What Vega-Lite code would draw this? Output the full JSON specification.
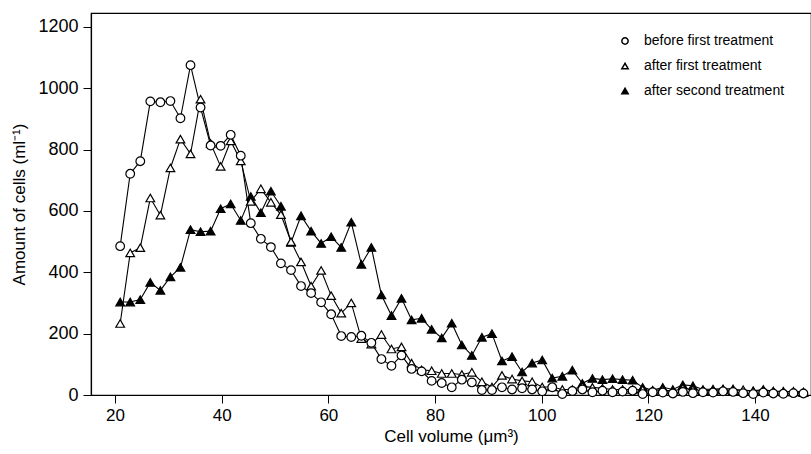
{
  "$schema": "https://vega.github.io/schema/vega-lite/v6.json",
  "width": 720,
  "height": 382,
  "autosize": {"type": "none"},
  "padding": {"left": 91, "top": 13, "right": 0, "bottom": 59},
  "background": "white",
  "config": {
    "view": {"stroke": "black", "strokeWidth": 1.2},
    "font": "Liberation Sans",
    "axis": {"grid": false, "domainColor": "black", "tickColor": "black", "labelColor": "black", "titleColor": "black", "labelFont": "Liberation Sans", "titleFont": "Liberation Sans", "titleFontWeight": "normal", "domainWidth": 1.2, "tickWidth": 1}
  },
  "data": {"values": [
{"s":"after second treatment","x":20.97,"v":303},{"s":"after second treatment","x":22.85,"v":303},{"s":"after second treatment","x":24.74,"v":311},{"s":"after second treatment","x":26.62,"v":367},{"s":"after second treatment","x":28.51,"v":341},{"s":"after second treatment","x":30.39,"v":385},{"s":"after second treatment","x":32.27,"v":416},{"s":"after second treatment","x":34.16,"v":539},{"s":"after second treatment","x":36.04,"v":532},{"s":"after second treatment","x":37.93,"v":534},
{"s":"after second treatment","x":39.81,"v":607},{"s":"after second treatment","x":41.69,"v":623},{"s":"after second treatment","x":43.58,"v":569},{"s":"after second treatment","x":45.46,"v":647},{"s":"after second treatment","x":47.35,"v":594},{"s":"after second treatment","x":49.23,"v":664},{"s":"after second treatment","x":51.11,"v":615},{"s":"after second treatment","x":53.0,"v":497},{"s":"after second treatment","x":54.88,"v":584},{"s":"after second treatment","x":56.77,"v":534},
{"s":"after second treatment","x":58.65,"v":494},{"s":"after second treatment","x":60.53,"v":516},{"s":"after second treatment","x":62.42,"v":481},{"s":"after second treatment","x":64.3,"v":563},{"s":"after second treatment","x":66.19,"v":426},{"s":"after second treatment","x":68.07,"v":481},{"s":"after second treatment","x":69.95,"v":326},{"s":"after second treatment","x":71.84,"v":259},{"s":"after second treatment","x":73.72,"v":315},{"s":"after second treatment","x":75.61,"v":245},
{"s":"after second treatment","x":77.49,"v":250},{"s":"after second treatment","x":79.37,"v":214},{"s":"after second treatment","x":81.26,"v":186},{"s":"after second treatment","x":83.14,"v":234},{"s":"after second treatment","x":85.03,"v":163},{"s":"after second treatment","x":86.91,"v":129},{"s":"after second treatment","x":88.79,"v":188},{"s":"after second treatment","x":90.68,"v":200},{"s":"after second treatment","x":92.56,"v":111},{"s":"after second treatment","x":94.45,"v":125},
{"s":"after second treatment","x":96.33,"v":75},{"s":"after second treatment","x":98.21,"v":104},{"s":"after second treatment","x":100.1,"v":114},{"s":"after second treatment","x":101.98,"v":55},{"s":"after second treatment","x":103.87,"v":61},{"s":"after second treatment","x":105.75,"v":81},{"s":"after second treatment","x":107.63,"v":38},{"s":"after second treatment","x":109.52,"v":54},{"s":"after second treatment","x":111.4,"v":50},{"s":"after second treatment","x":113.29,"v":53},
{"s":"after second treatment","x":115.17,"v":50},{"s":"after second treatment","x":117.05,"v":48},{"s":"after second treatment","x":118.94,"v":25},{"s":"after second treatment","x":120.82,"v":15},{"s":"after second treatment","x":122.71,"v":25},{"s":"after second treatment","x":124.59,"v":18},{"s":"after second treatment","x":126.47,"v":33},{"s":"after second treatment","x":128.36,"v":30},{"s":"after second treatment","x":130.24,"v":18},{"s":"after second treatment","x":132.13,"v":19},
{"s":"after second treatment","x":134.01,"v":20},{"s":"after second treatment","x":135.89,"v":20},{"s":"after second treatment","x":137.78,"v":14},{"s":"after second treatment","x":139.66,"v":14},{"s":"after second treatment","x":141.55,"v":18},{"s":"after second treatment","x":143.43,"v":12},{"s":"after second treatment","x":145.31,"v":12},{"s":"after second treatment","x":147.2,"v":10},{"s":"after second treatment","x":149.08,"v":8},
{"s":"after first treatment","x":20.97,"v":233},{"s":"after first treatment","x":22.85,"v":463},{"s":"after first treatment","x":24.74,"v":480},{"s":"after first treatment","x":26.62,"v":642},{"s":"after first treatment","x":28.51,"v":586},{"s":"after first treatment","x":30.39,"v":740},{"s":"after first treatment","x":32.27,"v":834},{"s":"after first treatment","x":34.16,"v":786},{"s":"after first treatment","x":36.04,"v":964},{"s":"after first treatment","x":37.93,"v":820},
{"s":"after first treatment","x":39.81,"v":745},{"s":"after first treatment","x":41.69,"v":828},{"s":"after first treatment","x":43.58,"v":763},{"s":"after first treatment","x":45.46,"v":631},{"s":"after first treatment","x":47.35,"v":672},{"s":"after first treatment","x":49.23,"v":628},{"s":"after first treatment","x":51.11,"v":588},{"s":"after first treatment","x":53.0,"v":500},{"s":"after first treatment","x":54.88,"v":434},{"s":"after first treatment","x":56.77,"v":355},
{"s":"after first treatment","x":58.65,"v":406},{"s":"after first treatment","x":60.53,"v":324},{"s":"after first treatment","x":62.42,"v":267},{"s":"after first treatment","x":64.3,"v":300},{"s":"after first treatment","x":66.19,"v":184},{"s":"after first treatment","x":68.07,"v":166},{"s":"after first treatment","x":69.95,"v":197},{"s":"after first treatment","x":71.84,"v":150},{"s":"after first treatment","x":73.72,"v":157},{"s":"after first treatment","x":75.61,"v":104},
{"s":"after first treatment","x":77.49,"v":82},{"s":"after first treatment","x":79.37,"v":79},{"s":"after first treatment","x":81.26,"v":70},{"s":"after first treatment","x":83.14,"v":70},{"s":"after first treatment","x":85.03,"v":67},{"s":"after first treatment","x":86.91,"v":74},{"s":"after first treatment","x":88.79,"v":43},{"s":"after first treatment","x":90.68,"v":26},{"s":"after first treatment","x":92.56,"v":64},{"s":"after first treatment","x":94.45,"v":52},
{"s":"after first treatment","x":96.33,"v":46},{"s":"after first treatment","x":98.21,"v":43},{"s":"after first treatment","x":100.1,"v":26},{"s":"after first treatment","x":101.98,"v":26},{"s":"after first treatment","x":103.87,"v":18},{"s":"after first treatment","x":105.75,"v":18},{"s":"after first treatment","x":107.63,"v":28},{"s":"after first treatment","x":109.52,"v":25},{"s":"after first treatment","x":111.4,"v":22},{"s":"after first treatment","x":113.29,"v":18},
{"s":"after first treatment","x":115.17,"v":18},{"s":"after first treatment","x":117.05,"v":18},{"s":"after first treatment","x":118.94,"v":17},{"s":"after first treatment","x":120.82,"v":15},{"s":"after first treatment","x":122.71,"v":17},{"s":"after first treatment","x":124.59,"v":12},{"s":"after first treatment","x":126.47,"v":22},{"s":"after first treatment","x":128.36,"v":18},{"s":"after first treatment","x":130.24,"v":14},{"s":"after first treatment","x":132.13,"v":15},
{"s":"after first treatment","x":134.01,"v":17},{"s":"after first treatment","x":135.89,"v":14},{"s":"after first treatment","x":137.78,"v":17},{"s":"after first treatment","x":139.66,"v":12},{"s":"after first treatment","x":141.55,"v":15},{"s":"after first treatment","x":143.43,"v":12},{"s":"after first treatment","x":145.31,"v":10},{"s":"after first treatment","x":147.2,"v":12},{"s":"after first treatment","x":149.08,"v":10},
{"s":"before first treatment","x":20.97,"v":485},{"s":"before first treatment","x":22.85,"v":721},{"s":"before first treatment","x":24.74,"v":762},{"s":"before first treatment","x":26.62,"v":957},{"s":"before first treatment","x":28.51,"v":954},{"s":"before first treatment","x":30.39,"v":958},{"s":"before first treatment","x":32.27,"v":902},{"s":"before first treatment","x":34.16,"v":1075},{"s":"before first treatment","x":36.04,"v":937},{"s":"before first treatment","x":37.93,"v":813},
{"s":"before first treatment","x":39.81,"v":812},{"s":"before first treatment","x":41.69,"v":848},{"s":"before first treatment","x":43.58,"v":780},{"s":"before first treatment","x":45.46,"v":560},{"s":"before first treatment","x":47.35,"v":509},{"s":"before first treatment","x":49.23,"v":482},{"s":"before first treatment","x":51.11,"v":429},{"s":"before first treatment","x":53.0,"v":407},{"s":"before first treatment","x":54.88,"v":355},{"s":"before first treatment","x":56.77,"v":332},
{"s":"before first treatment","x":58.65,"v":302},{"s":"before first treatment","x":60.53,"v":263},{"s":"before first treatment","x":62.42,"v":192},{"s":"before first treatment","x":64.3,"v":189},{"s":"before first treatment","x":66.19,"v":193},{"s":"before first treatment","x":68.07,"v":170},{"s":"before first treatment","x":69.95,"v":117},{"s":"before first treatment","x":71.84,"v":95},{"s":"before first treatment","x":73.72,"v":129},{"s":"before first treatment","x":75.61,"v":85},
{"s":"before first treatment","x":77.49,"v":77},{"s":"before first treatment","x":79.37,"v":46},{"s":"before first treatment","x":81.26,"v":39},{"s":"before first treatment","x":83.14,"v":25},{"s":"before first treatment","x":85.03,"v":50},{"s":"before first treatment","x":86.91,"v":41},{"s":"before first treatment","x":88.79,"v":16},{"s":"before first treatment","x":90.68,"v":16},{"s":"before first treatment","x":92.56,"v":25},{"s":"before first treatment","x":94.45,"v":18},
{"s":"before first treatment","x":96.33,"v":22},{"s":"before first treatment","x":98.21,"v":18},{"s":"before first treatment","x":100.1,"v":12},{"s":"before first treatment","x":101.98,"v":25},{"s":"before first treatment","x":103.87,"v":3},{"s":"before first treatment","x":105.75,"v":13},{"s":"before first treatment","x":107.63,"v":18},{"s":"before first treatment","x":109.52,"v":9},{"s":"before first treatment","x":111.4,"v":14},{"s":"before first treatment","x":113.29,"v":9},
{"s":"before first treatment","x":115.17,"v":11},{"s":"before first treatment","x":117.05,"v":14},{"s":"before first treatment","x":118.94,"v":3},{"s":"before first treatment","x":120.82,"v":9},{"s":"before first treatment","x":122.71,"v":8},{"s":"before first treatment","x":124.59,"v":5},{"s":"before first treatment","x":126.47,"v":10},{"s":"before first treatment","x":128.36,"v":6},{"s":"before first treatment","x":130.24,"v":9},{"s":"before first treatment","x":132.13,"v":8},
{"s":"before first treatment","x":134.01,"v":12},{"s":"before first treatment","x":135.89,"v":10},{"s":"before first treatment","x":137.78,"v":6},{"s":"before first treatment","x":139.66,"v":3},{"s":"before first treatment","x":141.55,"v":8},{"s":"before first treatment","x":143.43,"v":5},{"s":"before first treatment","x":145.31,"v":4},{"s":"before first treatment","x":147.2,"v":6},{"s":"before first treatment","x":149.08,"v":5}
  ]},
  "encoding": {
    "x": {"field": "x", "type": "quantitative", "scale": {"domain": [15.5, 150.5], "nice": false, "zero": false}, "axis": {"values": [20, 40, 60, 80, 100, 120, 140], "title": "Cell volume (μm³)", "labelFontSize": 17, "titleFontSize": 17, "tickSize": 8, "labelPadding": 4, "titlePadding": 5}},
    "y": {"field": "v", "type": "quantitative", "scale": {"domain": [0, 1245], "nice": false}, "axis": {"values": [0, 200, 400, 600, 800, 1000, 1200], "format": "d", "title": "Amount of cells (ml⁻¹)", "labelFontSize": 18, "titleFontSize": 17, "tickSize": 8, "labelPadding": 5, "titlePadding": 9}}
  },
  "layer": [
    {"mark": {"type": "line", "color": "black", "strokeWidth": 1.1}, "encoding": {"detail": {"field": "s", "type": "nominal"}}},
    {"mark": {"type": "point", "filled": true, "stroke": "black", "strokeWidth": 1.2, "size": 75, "opacity": 1},
     "encoding": {
       "shape": {"field": "s", "type": "nominal", "scale": {"domain": ["before first treatment", "after first treatment", "after second treatment"], "range": ["circle", "triangle-up", "triangle-up"]}, "legend": {"title": null, "orient": "none", "legendX": 527, "legendY": 21, "labelFontSize": 14, "labelColor": "black", "symbolSize": 40, "rowPadding": 11, "labelOffset": 12, "padding": 0, "encode": {"symbols": {"update": {"stroke": {"value": "black"}, "strokeWidth": {"value": 1.8}}}}}},
       "fill": {"field": "s", "type": "nominal", "scale": {"domain": ["before first treatment", "after first treatment", "after second treatment"], "range": ["white", "white", "black"]}, "legend": {"title": null, "orient": "none", "legendX": 527, "legendY": 21, "labelFontSize": 14, "labelColor": "black", "symbolSize": 40, "rowPadding": 11, "labelOffset": 12, "padding": 0, "encode": {"symbols": {"update": {"stroke": {"value": "black"}, "strokeWidth": {"value": 1.8}}}}}}
     }}
  ]
}
